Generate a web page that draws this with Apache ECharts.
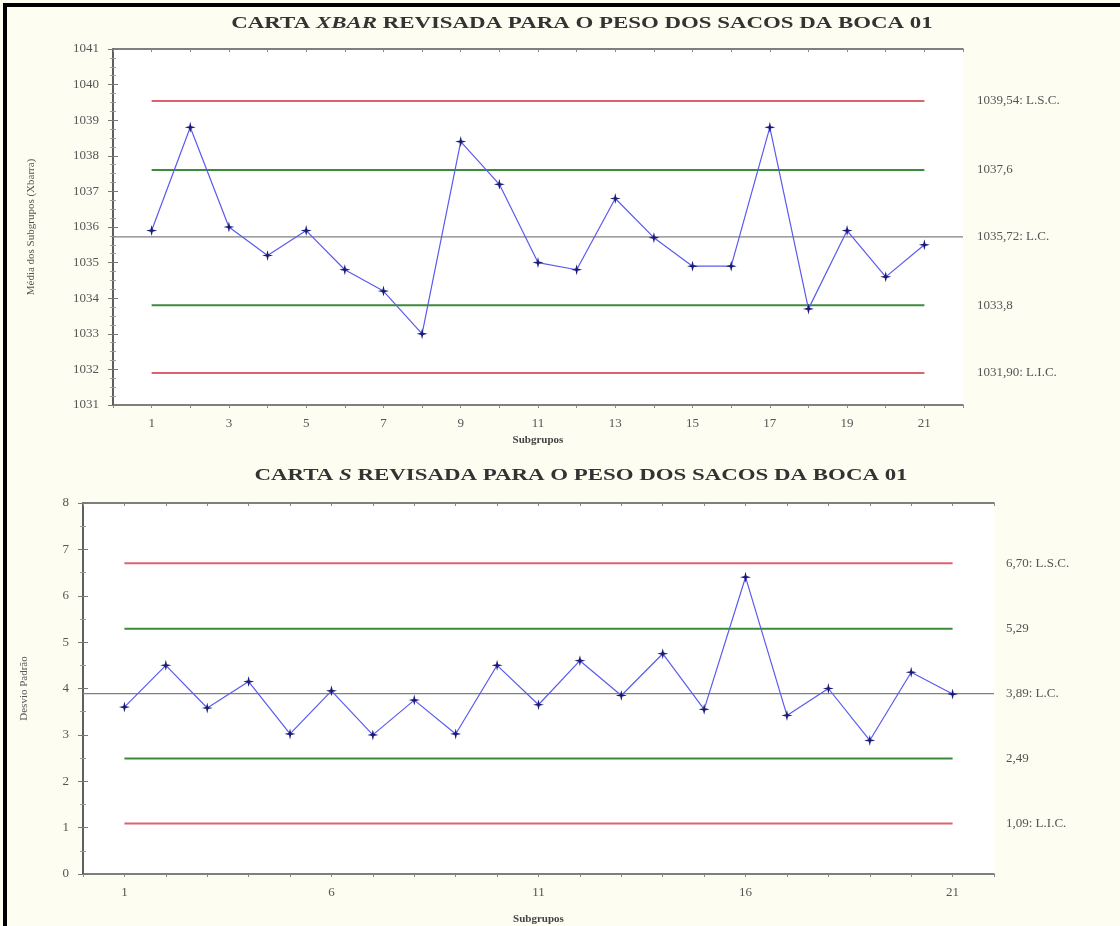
<!DOCTYPE html>
<html>
<head>
<meta charset="utf-8">
<script src="https://cdn.jsdelivr.net/npm/echarts@6/dist/echarts.min.js"></script>
<style>
html,body{margin:0;padding:0;background:#fdfdf1;}
#frame{position:absolute;left:3px;top:3px;width:1117px;height:923px;box-sizing:border-box;border-left:4px solid #000;border-top:4px solid #000;}
#chart{position:absolute;left:0;top:0;width:1120px;height:926px;}
</style>
</head>
<body>
<div id="chart"></div>
<div id="frame"></div>
<script>
// ---- data ----
const subgroups = [1,2,3,4,5,6,7,8,9,10,11,12,13,14,15,16,17,18,19,20,21];
const xbarValues = [1035.9,1038.8,1036.0,1035.2,1035.9,1034.8,1034.2,1033.0,1038.4,1037.2,1035.0,1034.8,1036.8,1035.7,1034.9,1034.9,1038.8,1033.7,1035.9,1034.6,1035.5];
const sValues = [3.6,4.5,3.58,4.15,3.02,3.95,3.0,3.75,3.02,4.5,3.65,4.6,3.85,4.75,3.55,6.4,3.42,4.0,2.88,4.35,3.88];
const xbarLimitValues = [1039.54, 1037.6, 1035.72, 1033.8, 1031.90];
const xbarLimitLabels = ['1039,54: L.S.C.', '1037,6', '1035,72: L.C.', '1033,8', '1031,90: L.I.C.'];
const sLimitValues = [6.70, 5.29, 3.89, 2.49, 1.09];
const sLimitLabels = ['6,70: L.S.C.', '5,29', '3,89: L.C.', '2,49', '1,09: L.I.C.'];
const limitKinds = ['ucl', 'warn', 'cl', 'warn', 'lcl'];
const xbarYTicks = {min: 1031, max: 1041, step: 1};
const sYTicks = {min: 0, max: 8, step: 1};
const xRange = {min: 0, max: 22};
const titleXbar = ['CARTA ', 'XBAR', ' REVISADA PARA O PESO DOS SACOS DA BOCA 01'];
const titleS = ['CARTA ', 'S', ' REVISADA PARA O PESO DOS SACOS DA BOCA 01'];
const xName = 'Subgrupos';
const yNameXbar = 'Média dos Subgrupos (Xbarra)';
const yNameS = 'Desvio Padrão';

// ---- styles ----
const FONT = '"Liberation Serif", "DejaVu Serif", serif';
const AX = '#555';
const kindColor = {ucl: '#e0606e', lcl: '#e0606e', warn: '#3c8a3c', cl: '#808080'};
const STAR = 'path://M0,-6 L1.2,-1.2 L6,0 L1.2,1.2 L0,6 L-1.2,1.2 L-6,0 L-1.2,-1.2 Z';

const chart = echarts.init(document.getElementById('chart'), null, {renderer: 'canvas'});

function xAxisCfg(gridIndex, labelFn, nameGap) {
  return {
    type: 'value', gridIndex, min: xRange.min, max: xRange.max, interval: 1,
    name: xName, nameLocation: 'middle', nameGap,
    nameTextStyle: {fontFamily: FONT, fontSize: 11, fontWeight: 'bold', color: '#444'},
    axisLine: {show: true, lineStyle: {color: AX, width: 1.5}},
    axisTick: {show: true, length: 3, lineStyle: {color: '#888'}},
    axisLabel: {fontFamily: FONT, fontSize: 13, color: '#555', margin: 12,
      formatter: v => labelFn(v) ? String(v) : ''},
    splitLine: {show: false}
  };
}
function topAxisCfg(gridIndex) {
  return {
    type: 'value', gridIndex, position: 'top', min: xRange.min, max: xRange.max, interval: 1,
    axisLine: {show: true, onZero: false, lineStyle: {color: AX, width: 1.5}},
    axisTick: {show: true, length: 3, inside: true, lineStyle: {color: '#888'}},
    axisLabel: {show: false}, splitLine: {show: false}
  };
}
function leftYCfg(gridIndex, rng, minorSplit, name, nameGap) {
  return {
    type: 'value', gridIndex, position: 'left', min: rng.min, max: rng.max, interval: rng.step,
    name, nameLocation: 'middle', nameGap,
    nameTextStyle: {fontFamily: FONT, fontSize: 11, color: '#555'},
    axisLine: {show: true, lineStyle: {color: AX, width: 1.5}},
    axisTick: {show: true, inside: true, length: 5, lineStyle: {color: '#777'}},
    minorTick: {show: true, splitNumber: minorSplit, length: 3, lineStyle: {color: '#999'}},
    axisLabel: {fontFamily: FONT, fontSize: 13, color: '#555', margin: 14, formatter: v => String(v)},
    splitLine: {show: false}
  };
}
function rightYCfg(gridIndex, rng, minorSplit, vals, labels, margin) {
  return {
    type: 'value', gridIndex, position: 'right', min: rng.min, max: rng.max, interval: rng.step,
    axisLine: {show: true, lineStyle: {color: AX, width: 1.5}},
    axisTick: {show: true, inside: true, length: 5, lineStyle: {color: '#777'}},
    minorTick: {show: true, splitNumber: minorSplit, length: 3, lineStyle: {color: '#999'}},
    axisLabel: {fontFamily: FONT, fontSize: 13, color: '#555', margin,
      customValues: vals,
      formatter: v => { const i = vals.findIndex(x => Math.abs(x - v) < 1e-6); return i >= 0 ? labels[i] : ''; }},
    splitLine: {show: false}
  };
}
function limitSeries(xi, yi, vals) {
  return vals.map((v, i) => {
    const k = limitKinds[i];
    const x0 = k === 'cl' ? xRange.min : subgroups[0];
    const x1 = k === 'cl' ? xRange.max : subgroups[subgroups.length - 1];
    return {
      type: 'line', xAxisIndex: xi, yAxisIndex: yi, data: [[x0, v], [x1, v]],
      symbol: 'none', silent: true, z: 1,
      lineStyle: {color: kindColor[k], width: k === 'cl' ? 1.2 : 2}
    };
  });
}
function dataSeries(xi, yi, vals) {
  return {
    type: 'line', xAxisIndex: xi, yAxisIndex: yi,
    data: subgroups.map((s, i) => [s, vals[i]]),
    symbol: STAR, symbolSize: 11, z: 5,
    lineStyle: {color: '#5a5af0', width: 1.2},
    itemStyle: {color: '#1c1c78', borderWidth: 0}
  };
}
function titleGraphic(parts, cx, cy) {
  return {
    type: 'text', x: cx, y: cy, scaleX: 1.43,
    style: {
      text: '{a|' + parts[0] + '}{b|' + parts[1] + '}{a|' + parts[2] + '}',
      align: 'center', verticalAlign: 'middle',
      rich: {
        a: {fontFamily: FONT, fontWeight: 'bold', fontSize: 16, fill: '#333', color: '#333'},
        b: {fontFamily: FONT, fontWeight: 'bold', fontStyle: 'italic', fontSize: 16, fill: '#333', color: '#333'}
      }
    }
  };
}

const option = {
  backgroundColor: '#fdfdf1',
  animation: false,
  graphic: [titleGraphic(titleXbar, 582, 24), titleGraphic(titleS, 581, 476)],
  grid: [
    {left: 113, top: 49, width: 850, height: 356, show: true, backgroundColor: '#ffffff', borderWidth: 0},
    {left: 83, top: 503, width: 911, height: 371, show: true, backgroundColor: '#ffffff', borderWidth: 0}
  ],
  xAxis: [
    xAxisCfg(0, v => v >= 1 && v % 2 === 1, 30),
    xAxisCfg(1, v => v >= 1 && (v - 1) % 5 === 0, 40),
    topAxisCfg(0),
    topAxisCfg(1)
  ],
  yAxis: [
    leftYCfg(0, xbarYTicks, 4, yNameXbar, 76),
    rightYCfg(0, xbarYTicks, 4, xbarLimitValues, xbarLimitLabels, 14),
    leftYCfg(1, sYTicks, 2, yNameS, 53),
    rightYCfg(1, sYTicks, 2, sLimitValues, sLimitLabels, 12)
  ],
  series: [
    ...limitSeries(0, 0, xbarLimitValues),
    dataSeries(0, 0, xbarValues),
    ...limitSeries(1, 2, sLimitValues),
    dataSeries(1, 2, sValues)
  ]
};
chart.setOption(option);
</script>
</body>
</html>
